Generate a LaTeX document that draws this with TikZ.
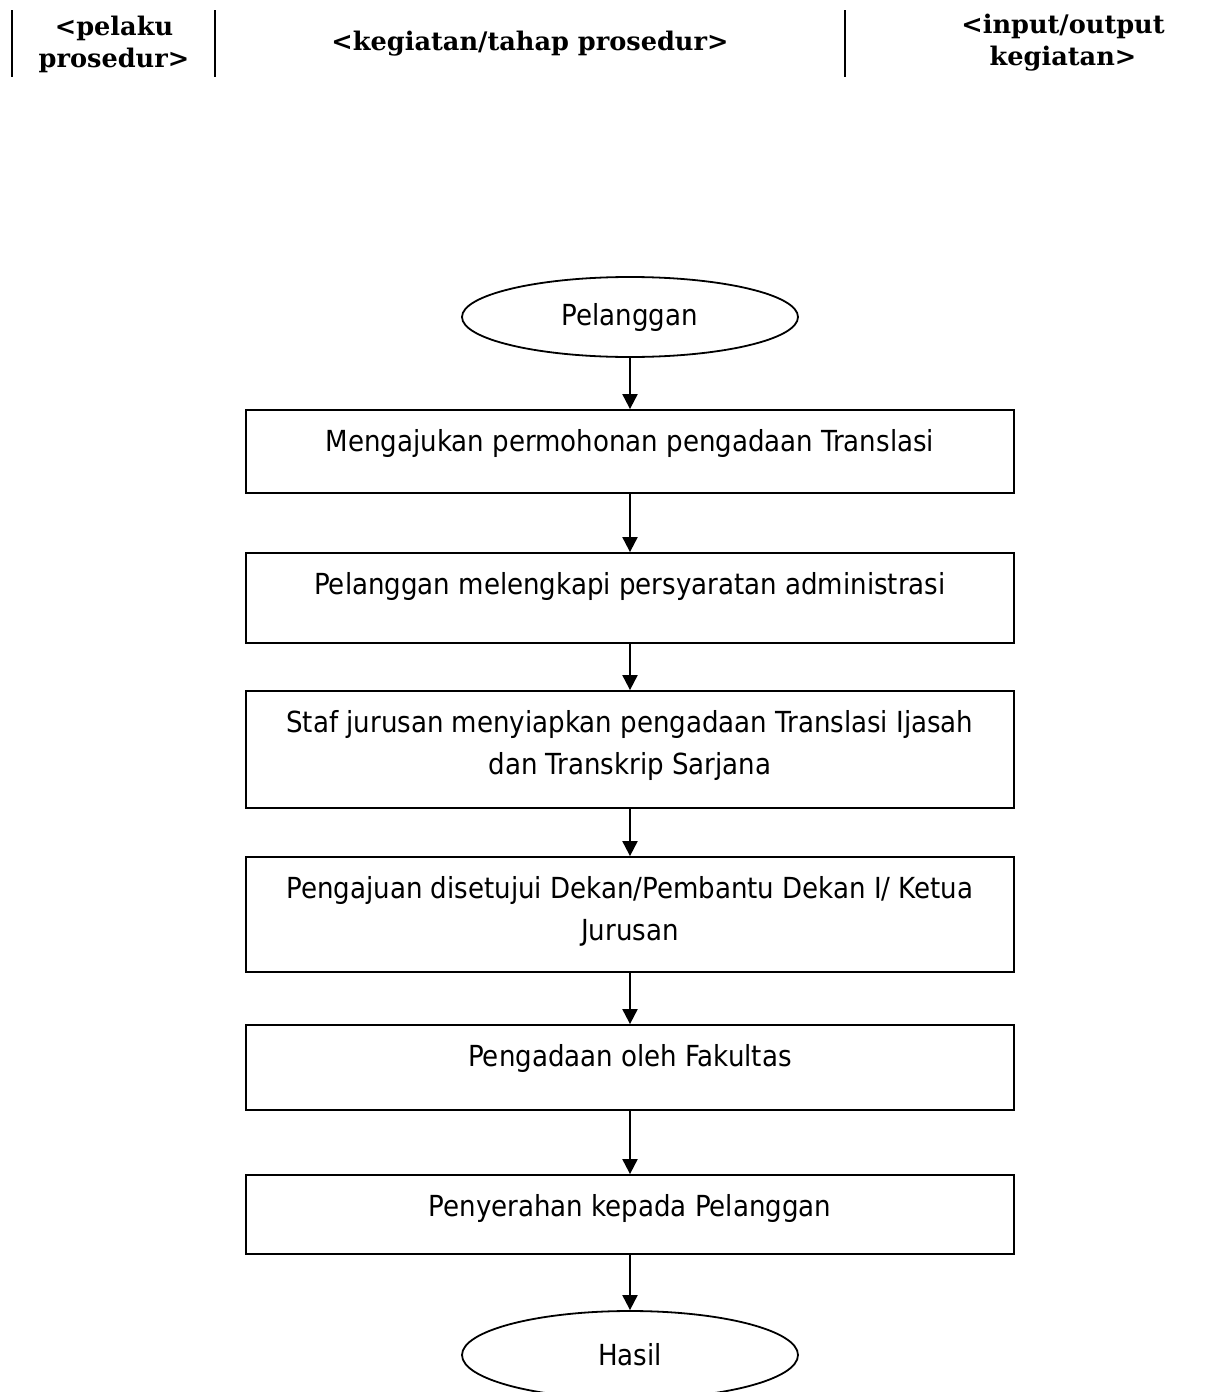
\documentclass[tikz,border=0pt]{standalone}
\usepackage{fontspec}
\setmainfont{DejaVu Sans Condensed}
\newfontfamily\headfont{DejaVu Serif}
\usetikzlibrary{arrows.meta}
\usetikzlibrary{shapes.geometric}
\tikzset{
  stepbox/.style={draw, line width=0.9pt, rectangle, minimum width=384pt, inner sep=0pt},
  steptext/.style={anchor=north, align=center, inner sep=0pt, font=\fontsize{14.5pt}{21pt}\selectfont},
  terminal/.style={draw, line width=0.9pt, ellipse, minimum width=168pt, minimum height=40pt, inner sep=0pt, font=\fontsize{14.5pt}{21pt}\selectfont},
  flow/.style={line width=1pt, arrows={-Triangle[length=7.5pt, width=7.5pt]}},
  header/.style={align=center, inner sep=0pt, font=\headfont\bfseries\fontsize{12.8pt}{16pt}\selectfont},
  column/.style={line width=0.8pt},
}
\begin{document}
\begin{tikzpicture}[x=0.5pt,y=-0.5pt]
\path[use as bounding box, clip] (0,0) rectangle (1219,1392);
\draw[column] (12,10) -- (12,77);
\draw[column] (215,10) -- (215,77);
\draw[column] (845,10) -- (845,77);
\node[header] (actor) at (114,44) {<pelaku\\prosedur>};
\node[header] (activity) at (530,44) {<kegiatan/tahap prosedur>};
\node[header] (io) at (1063,43) {<input/output\\kegiatan>};

\node[terminal] (start) at (630,317) {Pelanggan};
\node[stepbox, minimum height=41.5pt] (s1) at (630,451.5) {};
\node[stepbox, minimum height=45pt] (s2) at (630,598) {};
\node[stepbox, minimum height=58.5pt] (s3) at (630,749.5) {};
\node[stepbox, minimum height=57.5pt] (s4) at (630,914.5) {};
\node[stepbox, minimum height=42.5pt] (s5) at (630,1067.5) {};
\node[stepbox, minimum height=39.5pt] (s6) at (630,1214.5) {};
\node[terminal, minimum height=44pt] (finish) at (630,1355) {Hasil};

\node[steptext] (t1) at ([yshift=-10pt]s1.north) {Mengajukan permohonan pengadaan Translasi};
\node[steptext] (t2) at ([yshift=-10pt]s2.north) {Pelanggan melengkapi persyaratan administrasi};
\node[steptext] (t3) at ([yshift=-10pt]s3.north) {Staf jurusan menyiapkan pengadaan Translasi Ijasah\\dan Transkrip Sarjana};
\node[steptext] (t4) at ([yshift=-10pt]s4.north) {Pengajuan disetujui Dekan/Pembantu Dekan I/ Ketua\\Jurusan};
\node[steptext] (t5) at ([yshift=-10pt]s5.north) {Pengadaan oleh Fakultas};
\node[steptext] (t6) at ([yshift=-10pt]s6.north) {Penyerahan kepada Pelanggan};

\draw[flow] (start.south) -- (s1.north);
\draw[flow] (s1.south) -- (s2.north);
\draw[flow] (s2.south) -- (s3.north);
\draw[flow] (s3.south) -- (s4.north);
\draw[flow] (s4.south) -- (s5.north);
\draw[flow] (s5.south) -- (s6.north);
\draw[flow] (s6.south) -- (finish.north);
\end{tikzpicture}
\end{document}
